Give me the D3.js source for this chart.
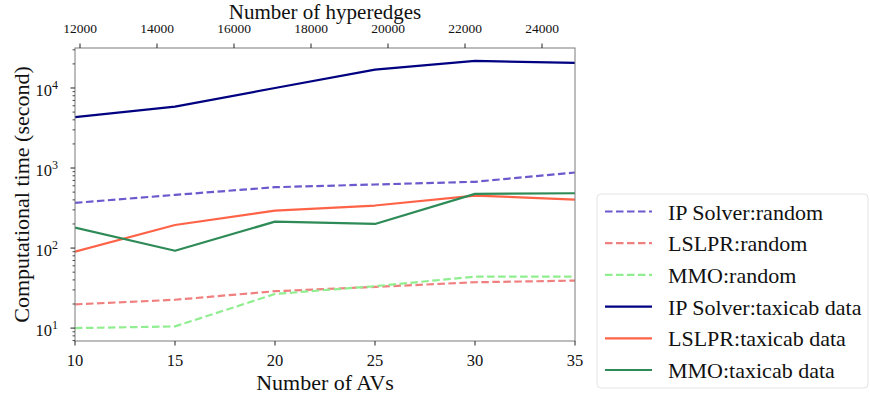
<!DOCTYPE html>
<html>
<head>
<meta charset="utf-8">
<script src="https://cdn.jsdelivr.net/npm/d3@7"></script>
<style>
  html, body { margin: 0; padding: 0; background: #fff; }
  svg { display: block; }
</style>
</head>
<body>
<svg id="chart" width="870" height="398" font-family="'Liberation Serif', 'DejaVu Serif', serif"></svg>
<script>
// Number of AVs on the bottom axis
const avs = [10, 15, 20, 25, 30, 35];
// Hyperedge ticks on the top axis
const hyperedgeTicks = [12000, 14000, 16000, 18000, 20000, 22000, 24000];
const hyperedgeDomain = [11870, 24857];
const yDomain = [6.9, 31600];
const yMajorTicks = [10, 100, 1000, 10000];

// Computational time (seconds) per series
const ipRandom      = [367, 462, 576, 623, 673, 880];
const lslprRandom   = [19.8, 22.6, 28.9, 32.7, 37.4, 39.2];
const mmoRandom     = [10, 10.5, 26.7, 33.4, 44, 44];
const ipTaxi        = [4330, 5840, 10000, 16980, 21800, 20600];
const lslprTaxi     = [90, 194, 294, 340, 453, 404];
const mmoTaxi       = [180, 92.5, 214, 200, 476, 484];

const seriesNames = ["IP Solver:random", "LSLPR:random", "MMO:random",
                     "IP Solver:taxicab data", "LSLPR:taxicab data", "MMO:taxicab data"];
const seriesValues = [ipRandom, lslprRandom, mmoRandom, ipTaxi, lslprTaxi, mmoTaxi];
const seriesColors = ["#6a5acd", "#f08080", "#90ee90", "#000080", "#ff6347", "#2e8b57"];
const seriesDashed = [true, true, true, false, false, false];

const FONT = "'Liberation Serif', 'DejaVu Serif', serif";
const svg = d3.select("#chart");
const L = 75, R = 575, T = 48, B = 341;

const x = d3.scaleLinear().domain([10, 35]).range([L, R]);
const xTop = d3.scaleLinear().domain(hyperedgeDomain).range([L, R]);
const y = d3.scaleLog().domain(yDomain).range([B, T]);

function label(g, px, py, size, str, anchor) {
  return g.append("text").attr("x", px).attr("y", py)
    .attr("font-family", FONT).attr("font-size", size).attr("fill", "#111")
    .attr("text-anchor", anchor || "middle").text(str);
}

// Lines (clipped to the plot frame)
svg.append("clipPath").attr("id", "plotClip")
  .append("rect").attr("x", L).attr("y", T).attr("width", R - L).attr("height", B - T);

const line = d3.line().x((d, i) => x(avs[i])).y(d => y(d));
const plot = svg.append("g").attr("clip-path", "url(#plotClip)");
seriesValues.forEach((vals, k) => {
  plot.append("path")
    .attr("d", line(vals))
    .attr("fill", "none")
    .attr("stroke", seriesColors[k])
    .attr("stroke-width", 2.2)
    .attr("stroke-dasharray", seriesDashed[k] ? "7.5,3.5" : null)
    .attr("stroke-linejoin", "round");
});

// Frame
svg.append("rect")
  .attr("x", L).attr("y", T).attr("width", R - L).attr("height", B - T)
  .attr("fill", "none").attr("stroke", "#7a7a7a").attr("stroke-width", 1);

// Bottom axis
const bottomAxis = svg.append("g");
avs.forEach(v => {
  bottomAxis.append("line").attr("x1", x(v)).attr("x2", x(v)).attr("y1", B).attr("y2", B + 4.5)
    .attr("stroke", "#222").attr("stroke-width", 1);
  label(bottomAxis, x(v), B + 25, 16.5, v);
});
label(svg, (L + R) / 2, 390, 22, "Number of AVs");

// Top axis
const topAxis = svg.append("g");
hyperedgeTicks.forEach(v => {
  topAxis.append("line").attr("x1", xTop(v)).attr("x2", xTop(v)).attr("y1", T).attr("y2", T - 4.5)
    .attr("stroke", "#222").attr("stroke-width", 1);
  label(topAxis, xTop(v), T - 15, 13.5, v);
});
label(svg, (L + R) / 2, 19, 21, "Number of hyperedges");

// Left axis: major and minor log ticks
const leftAxis = svg.append("g");
const minor = [];
for (let e = 0; e <= 4; e++) {
  for (let m = 2; m <= 9; m++) minor.push(m * Math.pow(10, e));
}
minor.filter(v => v >= yDomain[0] && v <= yDomain[1]).forEach(v => {
  leftAxis.append("line").attr("x1", L).attr("x2", L - 2.5).attr("y1", y(v)).attr("y2", y(v))
    .attr("stroke", "#222").attr("stroke-width", 0.8);
});
yMajorTicks.forEach(v => {
  leftAxis.append("line").attr("x1", L).attr("x2", L - 4.5).attr("y1", y(v)).attr("y2", y(v))
    .attr("stroke", "#222").attr("stroke-width", 1);
  const t = label(leftAxis, L - 17, y(v) + 8, 16.5, null, "end");
  t.append("tspan").text("10");
  t.append("tspan").attr("font-size", 12).attr("dy", -7).text(Math.round(Math.log10(v)));
});
svg.append("text")
  .attr("transform", `translate(29,${(T + B) / 2}) rotate(-90)`)
  .attr("font-family", FONT).attr("fill", "#111")
  .attr("text-anchor", "middle").attr("font-size", 22).text("Computational time (second)");

// Legend
const lg = svg.append("g");
lg.append("rect").attr("x", 597).attr("y", 194).attr("width", 271).attr("height", 194)
  .attr("rx", 4).attr("fill", "#fff").attr("stroke", "#e4e4e4").attr("stroke-width", 1);
seriesNames.forEach((name, k) => {
  const cy = 211.5 + k * 31.7;
  lg.append("line").attr("x1", 605).attr("x2", 652).attr("y1", cy).attr("y2", cy)
    .attr("stroke", seriesColors[k]).attr("stroke-width", 2.2)
    .attr("stroke-dasharray", seriesDashed[k] ? "7.5,3.5" : null);
  label(lg, 668, cy + 8, 22, name, "start");
});
</script>
</body>
</html>
